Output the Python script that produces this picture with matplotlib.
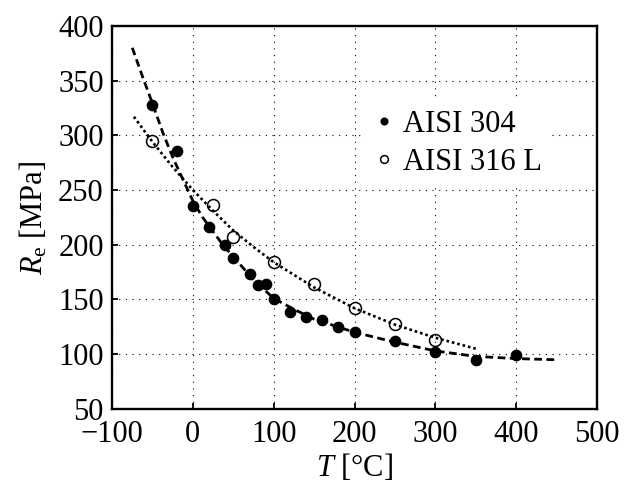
import numpy as np
import matplotlib
matplotlib.use("Agg")
import matplotlib.pyplot as plt

# measured yield strength, AISI 304
T_304 = [-50, -20, 0, 20, 40, 50, 70, 80, 90, 100, 120, 140, 160, 180, 200, 250, 300, 350, 400]
Re_304 = [328, 286, 235, 216, 200, 188, 173, 163, 164, 150, 139, 134, 131, 125, 120, 112, 102, 95, 99]

# measured yield strength, AISI 316 L
T_316 = [-50, 25, 50, 100, 150, 200, 250, 300]
Re_316 = [295, 236, 207, 184, 164, 142, 128, 113]

# trend curves
T_fit_304 = [-75, -62, -50, -37, -25, -12, 0, 12, 25, 37, 50, 75, 100, 125, 150, 200, 250, 300, 350, 400, 447]
Re_fit_304 = [380, 353, 329, 302, 280, 259, 240, 225, 212, 200, 189, 168, 151, 141, 132, 120, 111, 103, 98, 96, 95]

T_fit_316 = [-73, -50, -25, 0, 25, 50, 75, 100, 150, 200, 250, 300, 350]
Re_fit_316 = [317, 294, 271, 250, 231, 213, 198, 184, 161, 142, 127, 115, 105]

plt.rcParams['font.family'] = ['Liberation Serif', 'DejaVu Serif']
plt.rcParams['mathtext.fontset'] = 'custom'
plt.rcParams['mathtext.rm'] = 'Liberation Serif'
plt.rcParams['mathtext.it'] = 'Liberation Serif:italic'

fig = plt.figure(figsize=(6.26, 4.88), dpi=100)
ax = fig.add_axes([0.179, 0.162, 0.775, 0.785])

ax.plot(T_fit_304, Re_fit_304, color='black', lw=2.0, linestyle=(0, (2.8, 1.6)), zorder=2)
ax.plot(T_fit_316, Re_fit_316, color='black', lw=1.9, linestyle=(0, (1, 1.1)), zorder=2)

ax.plot(T_304, Re_304, 'o', color='black', markersize=7.4, linestyle='none',
        label='AISI 304', zorder=3)
ax.plot(T_316, Re_316, 'o', markerfacecolor='none', markeredgecolor='black',
        markeredgewidth=1.1, markersize=8.6, linestyle='none',
        label='AISI 316 L', zorder=3)

ax.set_xlim(-100, 500)
ax.set_ylim(50, 400)
ax.set_xticks(np.arange(-100, 501, 100))
ax.set_yticks(np.arange(50, 401, 50))
ax.set_xticklabels(['\u2212100', '0', '100', '200', '300', '400', '500'])

ax.grid(True, color='black', lw=0.8, linestyle=(0, (1, 5)))
ax.set_axisbelow(True)

for s in ax.spines.values():
    s.set_linewidth(1.7)

ax.tick_params(direction='in', length=4.5, width=1.3, labelsize=22, pad=6)
ax.tick_params(axis='x', pad=8)

ax.set_xlabel(r'$T$ [°C]', fontsize=22, labelpad=2)
ax.set_ylabel(r'$R_\mathrm{e}$ [MPa]', fontsize=22, labelpad=6)

leg = ax.legend(loc='upper left', bbox_to_anchor=(0.522, 0.804), fontsize=22,
                frameon=True, facecolor='white', edgecolor='none', framealpha=1,
                markerscale=0.65, handlelength=0.6, handletextpad=0.35,
                labelspacing=0.28, borderpad=0.3, borderaxespad=0)
leg.get_frame().set_boxstyle('square', pad=0)

fig.savefig('out.png', dpi=100)
